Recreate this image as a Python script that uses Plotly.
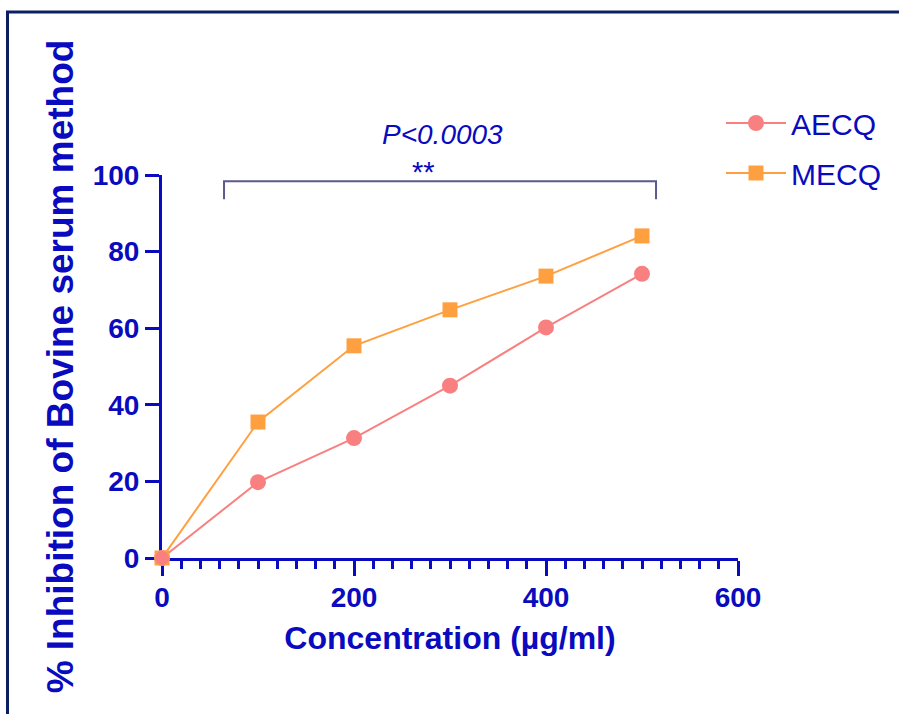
import plotly.graph_objects as go

concentration = [0, 100, 200, 300, 400, 500]
aecq = [0, 19.8, 31.3, 45.0, 60.2, 74.2]
mecq = [0, 35.5, 55.4, 64.8, 73.6, 84.1]
x_ticks = [0, 200, 400, 600]
y_ticks = [0, 20, 40, 60, 80, 100]

BLUE = "#0A0ABE"
AECQ_C = "#F98080"
MECQ_C = "#FFA040"
NAVY = "#0A2060"

W, H = 899, 714
L, R, T, B = 162, 161, 175, 156
pw, ph = W - L - R, H - T - B

def px(x):
    return (x - L) / pw

def py(y):
    return (H - B - y) / ph

fig = go.Figure()
fig.add_trace(go.Scatter(x=concentration, y=aecq, name="AECQ", mode="lines+markers",
                         line=dict(color=AECQ_C, width=2),
                         marker=dict(symbol="circle", size=16, color=AECQ_C),
                         cliponaxis=False, legendgroup="a"))
fig.add_trace(go.Scatter(x=concentration, y=mecq, name="MECQ", mode="lines+markers",
                         line=dict(color=MECQ_C, width=2),
                         marker=dict(symbol="square", size=15, color=MECQ_C),
                         cliponaxis=False, legendgroup="m"))
# redraw first AECQ point on top at origin
fig.add_trace(go.Scatter(x=concentration[:1], y=aecq[:1], mode="markers",
                         marker=dict(symbol="circle", size=14, color=AECQ_C),
                         cliponaxis=False, showlegend=False, hoverinfo="skip"))

fig.update_layout(
    width=W, height=H,
    margin=dict(l=L, r=R, t=T, b=B),
    paper_bgcolor="white", plot_bgcolor="white",
    font=dict(family="Liberation Sans, Arial, sans-serif", color=BLUE),
    xaxis=dict(range=[0, 600], tickvals=x_ticks, showgrid=False, zeroline=False,
               showline=True, linecolor=BLUE, linewidth=3,
               ticks="outside", ticklen=15, tickwidth=3, tickcolor=BLUE,
               minor=dict(dtick=20, ticks="outside", ticklen=8, tickwidth=3, tickcolor=BLUE),
               tickfont=dict(size=28, color=BLUE, weight="bold"),
               ticklabelstandoff=-3,
               title=dict(text="Concentration (µg/ml)", standoff=16,
                          font=dict(size=32, color=BLUE, weight="bold")),
               layer="below traces"),
    yaxis=dict(range=[0, 100], tickvals=y_ticks, showgrid=False, zeroline=False,
               showline=True, linecolor=BLUE, linewidth=3,
               ticks="outside", ticklen=14, tickwidth=3, tickcolor=BLUE,
               tickfont=dict(size=28, color=BLUE, weight="bold"),
               title=dict(text="% Inhibition of Bovine serum method", standoff=8,
                          font=dict(size=37, color=BLUE, weight="bold")),
               layer="below traces"),
    legend=dict(x=px(721), y=py(97), xanchor="left", yanchor="top",
                font=dict(size=30, color=BLUE), tracegroupgap=8, itemwidth=60,
                bgcolor="rgba(0,0,0,0)"),
    showlegend=True,
)

# significance bracket
fig.add_shape(type="path", xref="x", yref="y",
              path="M 64.6 93.7 L 64.6 98.4 L 514.6 98.4 L 514.6 93.7",
              line=dict(color="#5A5A8C", width=2))
fig.add_annotation(x=272, y=py(172), xref="x", yref="paper", yanchor="middle",
                   text="**", showarrow=False, font=dict(size=29, color=BLUE))
fig.add_annotation(x=291.7, y=py(135), xref="x", yref="paper", yanchor="middle",
                   text="<i>P<0.0003</i>", showarrow=False, font=dict(size=28, color=BLUE))

# outer frame (left and top)
fig.add_shape(type="line", xref="paper", yref="paper", x0=px(7.5), x1=px(7.5),
              y0=py(12), y1=py(720), line=dict(color=NAVY, width=3))
fig.add_shape(type="line", xref="paper", yref="paper", x0=px(6), x1=px(905),
              y0=py(12), y1=py(12), line=dict(color=NAVY, width=3))

fig.write_html("out.html", config={"displayModeBar": False},
               post_script="document.body.style.margin='0';")
